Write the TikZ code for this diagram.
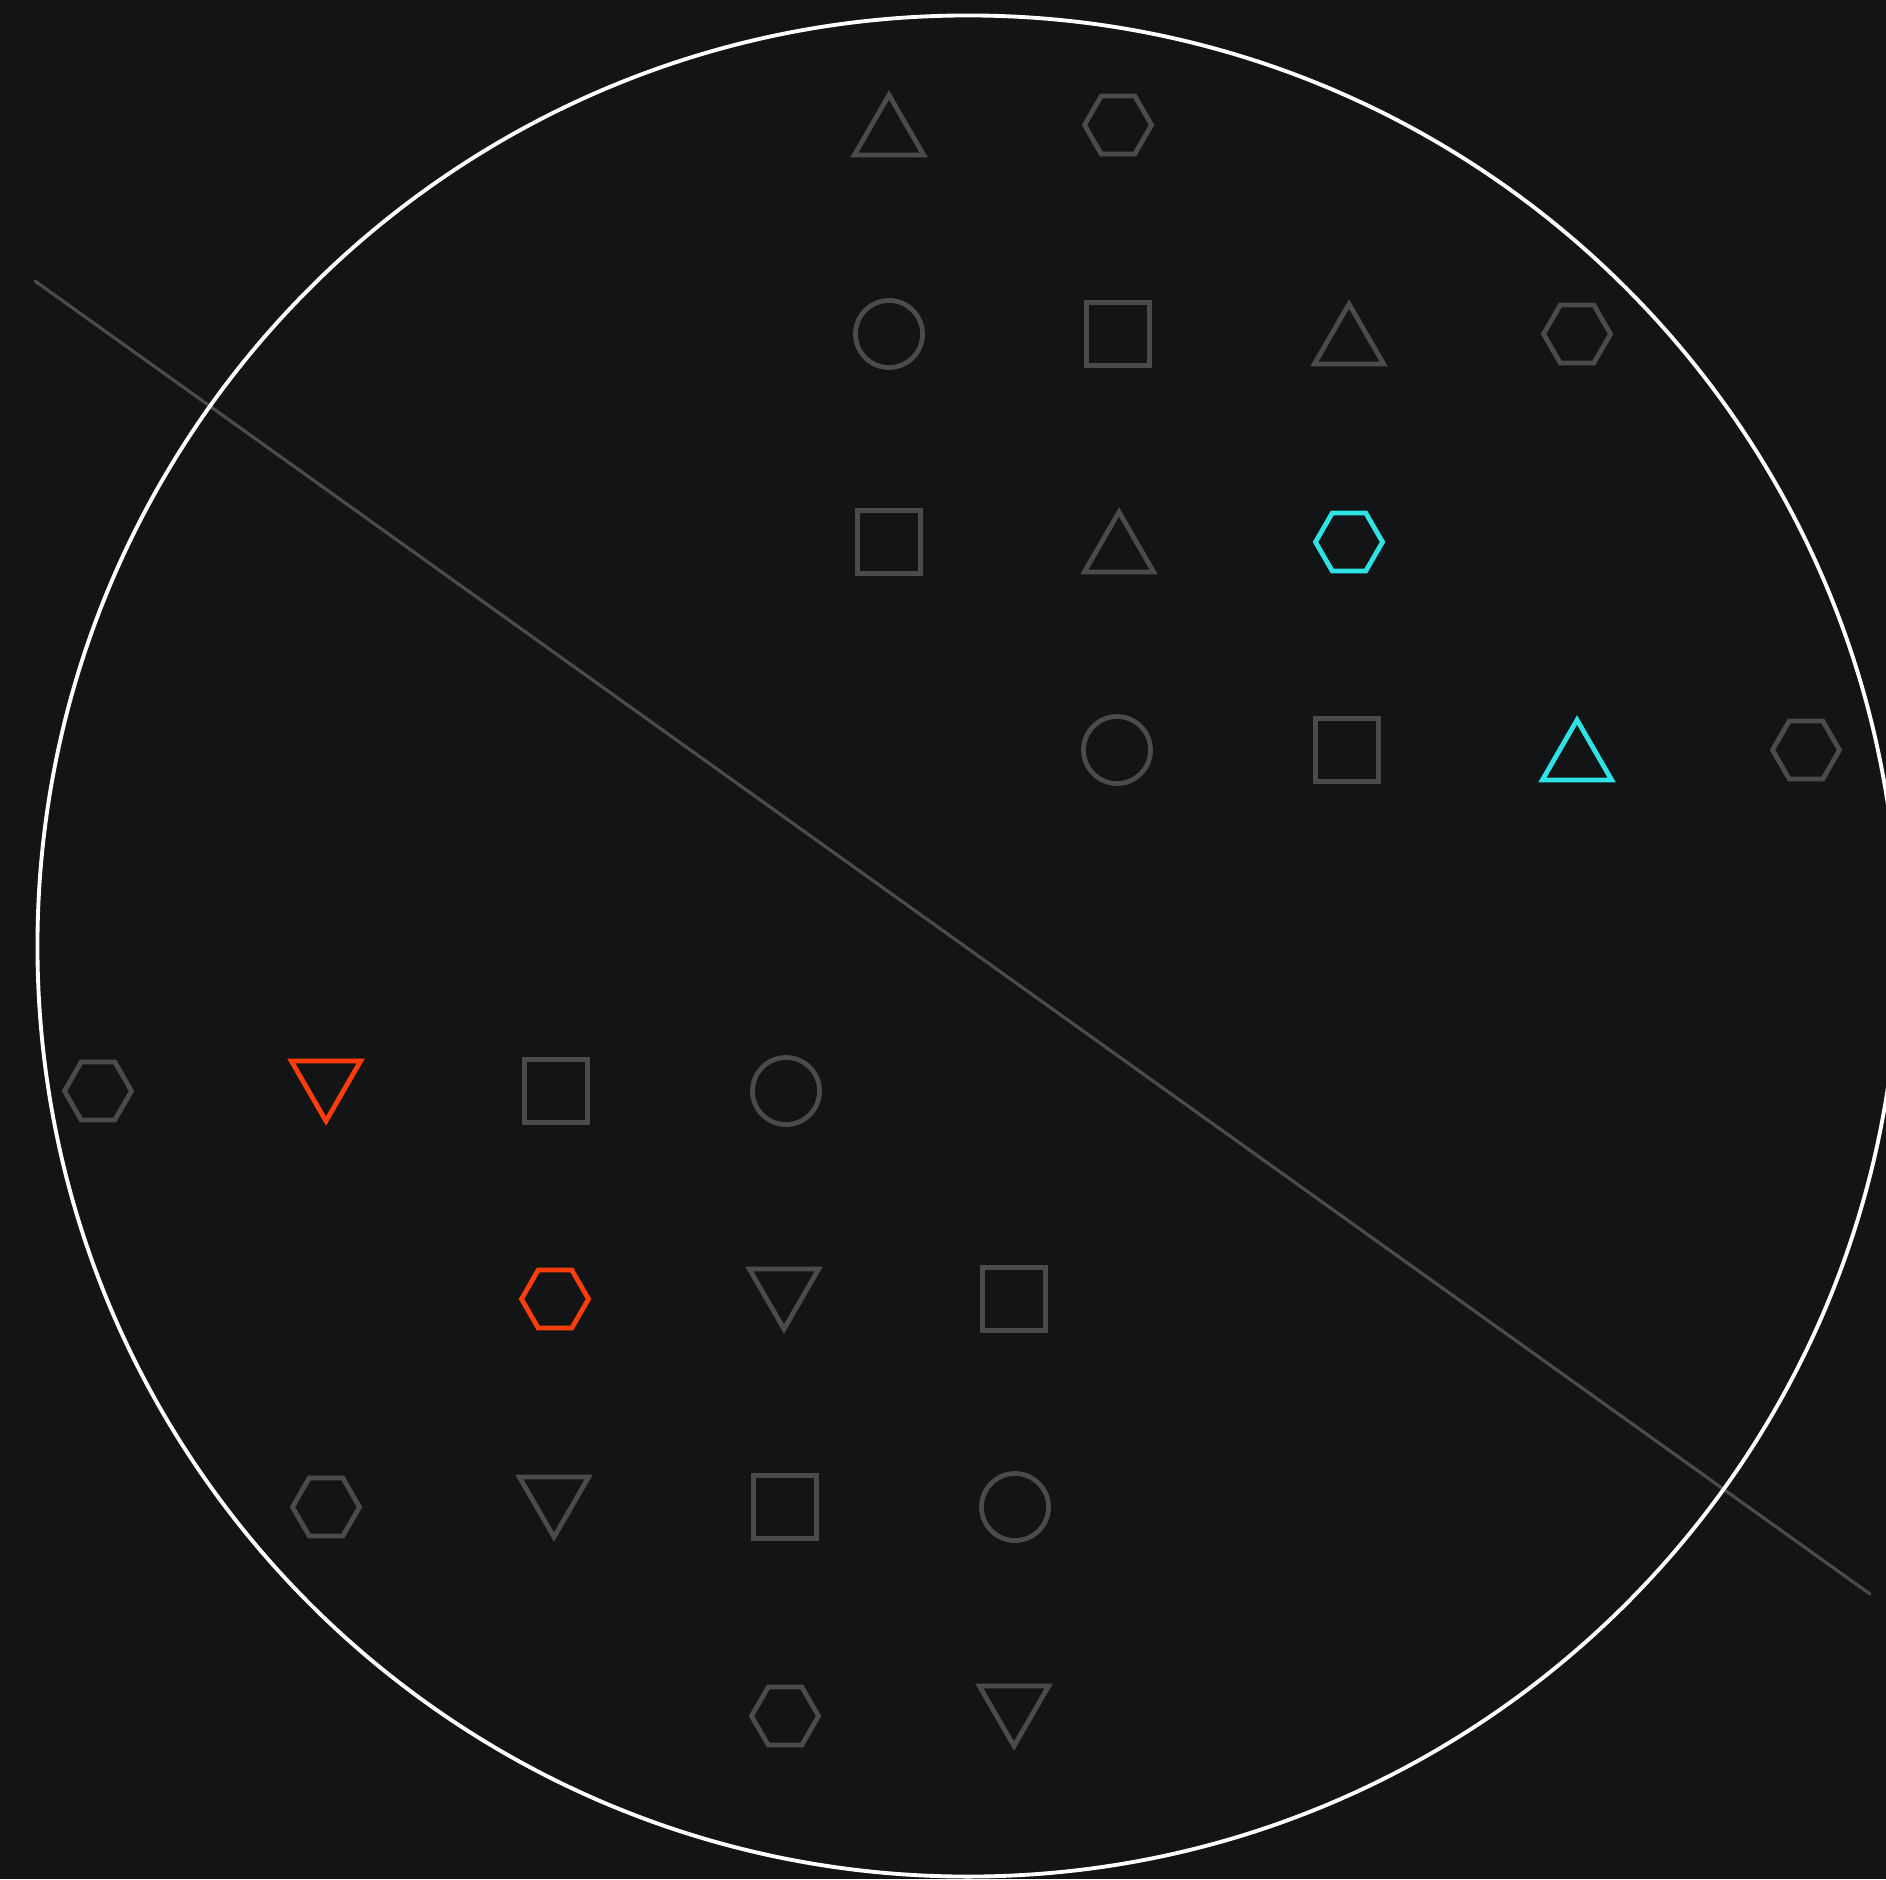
\documentclass[tikz,border=0pt]{standalone}
\usetikzlibrary{shapes.geometric}

\definecolor{bgdark}{HTML}{131416}
\definecolor{shapegray}{HTML}{4B4B4D}
\definecolor{hicyan}{HTML}{2DE3E6}
\definecolor{hiorange}{HTML}{FF3D0A}

\tikzset{
  shapebase/.style={draw=shapegray, line width=1.35pt, inner sep=0pt, outer sep=0pt},
  hexa/.style={shapebase, regular polygon, regular polygon sides=6, minimum size=0.67cm},
  tri/.style={shapebase, regular polygon, regular polygon sides=3, minimum size=0.8cm, yshift=-0.1cm},
  dtri/.style={shapebase, regular polygon, regular polygon sides=3, regular polygon rotate=180, minimum size=0.8cm, yshift=0.1cm},
  circ/.style={shapebase, circle, minimum size=0.67cm},
  sqr/.style={shapebase, rectangle, minimum size=0.63cm},
}

\begin{document}
\begin{tikzpicture}[x=0.01cm, y=-0.01cm]
    \fill[bgdark] (0,0) rectangle (1886,1879);
    \useasboundingbox (0,0) rectangle (1886,1879);

    % dividing line
    \coordinate (cut-a) at (35,281);
    \coordinate (cut-b) at (1870,1594);
    \draw[shapegray, line width=0.9pt, line cap=round] (cut-a) -- (cut-b);

    % upper group
    \node[tri]  (u-tri1)  at (889,125) {};
    \node[hexa] (u-hex1)  at (1118,125) {};

    \node[circ] (u-circ1) at (889,334) {};
    \node[sqr]  (u-sq1)   at (1118,334) {};
    \node[tri]  (u-tri2)  at (1349,334) {};
    \node[hexa] (u-hex2)  at (1577,334) {};

    \node[sqr]  (u-sq2)   at (889,542) {};
    \node[tri]  (u-tri3)  at (1119,542) {};
    \node[hexa, draw=hicyan] (u-hex3) at (1349,542) {};

    \node[circ] (u-circ2) at (1117,750) {};
    \node[sqr]  (u-sq3)   at (1347,750) {};
    \node[tri, draw=hicyan] (u-tri4) at (1577,750) {};
    \node[hexa] (u-hex4)  at (1806,750) {};

    % lower group
    \node[hexa] (l-hex1)  at (98,1091) {};
    \node[dtri, draw=hiorange] (l-dtri1) at (326,1091) {};
    \node[sqr]  (l-sq1)   at (556,1091) {};
    \node[circ] (l-circ1) at (786,1091) {};

    \node[hexa, draw=hiorange] (l-hex2) at (555,1299) {};
    \node[dtri] (l-dtri2) at (784,1299) {};
    \node[sqr]  (l-sq2)   at (1014,1299) {};

    \node[hexa] (l-hex3)  at (326,1507) {};
    \node[dtri] (l-dtri3) at (554,1507) {};
    \node[sqr]  (l-sq3)   at (785,1507) {};
    \node[circ] (l-circ2) at (1015,1507) {};

    \node[hexa] (l-hex4)  at (785,1716) {};
    \node[dtri] (l-dtri4) at (1014,1716) {};

    % outer ring
    \node[circle, draw=white, line width=1.1pt, inner sep=0pt, minimum size=18.6cm] (ring) at (968,946) {};
\end{tikzpicture}
\end{document}
